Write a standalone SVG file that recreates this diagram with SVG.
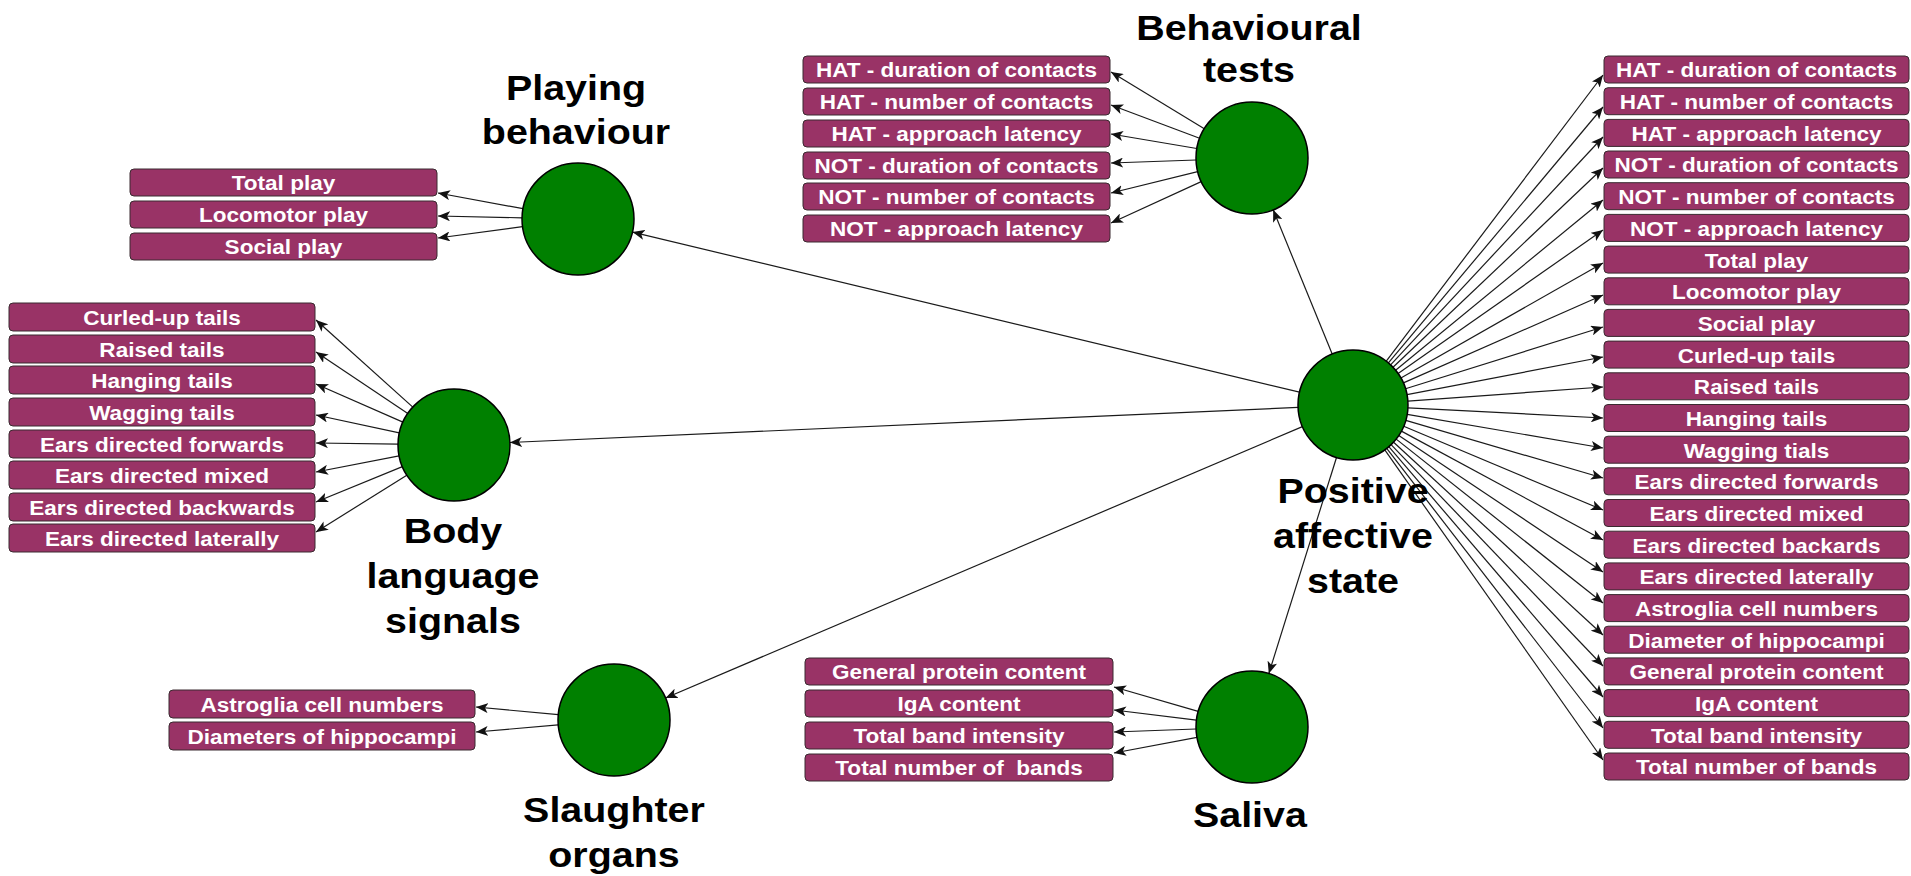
<svg xmlns="http://www.w3.org/2000/svg" width="1911" height="876" viewBox="0 0 1911 876">
<style>
  .hub { fill: #008000; stroke: #000; stroke-width: 1.5; }
  .box rect { fill: #993366; stroke: #3a2a30; stroke-width: 1; }
  .box text { fill: #ffffff; font-family: "Liberation Sans", Arial, sans-serif; font-weight: bold; font-size: 20.5px; text-anchor: middle; transform-box: fill-box; transform-origin: center; transform: scaleX(1.1); }
  .title { fill: #000; font-family: "Liberation Sans", Arial, sans-serif; font-weight: bold; font-size: 35.5px; text-anchor: middle; transform-box: fill-box; transform-origin: center; transform: scaleX(1.11); }
  #connectors line { stroke: #1a1a1a; stroke-width: 1.2; marker-end: url(#arrow); }
</style>
<defs>
  <marker id="arrow" markerUnits="userSpaceOnUse" markerWidth="13" markerHeight="10" refX="12" refY="5" orient="auto">
    <path d="M0,0 L12,5 L0,10 L3,5 Z" fill="#111"/>
  </marker>
</defs>
<rect width="1911" height="876" fill="#ffffff"/>

<g id="connectors">
  <!-- hub to categories -->
  <line x1="1332.2" y1="354.1" x2="1273.2" y2="209.8"/>
  <line x1="1299.5" y1="392.2" x2="632.5" y2="232.1"/>
  <line x1="1298.1" y1="407.4" x2="509.9" y2="442.5"/>
  <line x1="1302.4" y1="426.6" x2="665.5" y2="698"/>
  <line x1="1336.5" y1="457.5" x2="1268.8" y2="673.6"/>
  <!-- playing behaviour -->
  <line x1="523" y1="208.7" x2="438" y2="193"/>
  <line x1="522" y1="217.8" x2="438" y2="216"/>
  <line x1="522.5" y1="226.6" x2="438" y2="238"/>
  <!-- behavioural tests -->
  <line x1="1204.3" y1="128.7" x2="1111" y2="72"/>
  <line x1="1199.6" y1="138.2" x2="1111" y2="105"/>
  <line x1="1196.8" y1="148.5" x2="1111" y2="134"/>
  <line x1="1196" y1="160" x2="1111" y2="163"/>
  <line x1="1197.7" y1="171.6" x2="1111" y2="193"/>
  <line x1="1201.2" y1="181.6" x2="1111" y2="223"/>
  <!-- body language signals -->
  <line x1="412.8" y1="407.1" x2="316" y2="320"/>
  <line x1="407.8" y1="413.4" x2="316" y2="352"/>
  <line x1="402.9" y1="422.1" x2="316" y2="384"/>
  <line x1="399.3" y1="432.9" x2="316" y2="415"/>
  <line x1="398" y1="444.2" x2="316" y2="443"/>
  <line x1="399.1" y1="455.9" x2="316" y2="472"/>
  <line x1="402.4" y1="466.6" x2="316" y2="502"/>
  <line x1="406.8" y1="475.2" x2="316" y2="532"/>
  <!-- slaughter organs -->
  <line x1="558.3" y1="714.7" x2="476" y2="707"/>
  <line x1="558.2" y1="724.9" x2="476" y2="732"/>
  <!-- saliva -->
  <line x1="1198.2" y1="711.4" x2="1114" y2="687"/>
  <line x1="1196.4" y1="720.2" x2="1114" y2="710"/>
  <line x1="1196" y1="729" x2="1114" y2="732"/>
  <line x1="1197" y1="737.4" x2="1114" y2="753"/>
  <!-- hub to right-hand column -->
  <line x1="1386.3" y1="361.2" x2="1603" y2="75"/>
  <line x1="1388.4" y1="362.9" x2="1603" y2="107"/>
  <line x1="1390.6" y1="364.9" x2="1603" y2="137"/>
  <line x1="1393" y1="367.2" x2="1603" y2="168"/>
  <line x1="1395.6" y1="370.2" x2="1603" y2="200"/>
  <line x1="1398.1" y1="373.5" x2="1603" y2="230"/>
  <line x1="1400.9" y1="377.9" x2="1603" y2="263"/>
  <line x1="1403.4" y1="382.9" x2="1603" y2="295"/>
  <line x1="1405.5" y1="388.7" x2="1603" y2="327"/>
  <line x1="1407" y1="394.7" x2="1603" y2="357"/>
  <line x1="1407.9" y1="401.1" x2="1603" y2="387"/>
  <line x1="1407.9" y1="407.8" x2="1603" y2="418"/>
  <line x1="1407.2" y1="414.3" x2="1603" y2="448"/>
  <line x1="1405.8" y1="420.4" x2="1603" y2="478"/>
  <line x1="1403.7" y1="426.2" x2="1603" y2="510"/>
  <line x1="1401.4" y1="431.1" x2="1603" y2="540"/>
  <line x1="1398.8" y1="435.5" x2="1603" y2="572"/>
  <line x1="1396.2" y1="439.1" x2="1603" y2="603"/>
  <line x1="1393.6" y1="442.2" x2="1603" y2="635"/>
  <line x1="1391.1" y1="444.6" x2="1603" y2="666"/>
  <line x1="1388.8" y1="446.7" x2="1603" y2="697"/>
  <line x1="1386.7" y1="448.4" x2="1603" y2="728"/>
  <line x1="1384.8" y1="449.9" x2="1603" y2="760"/>
</g>

<!-- category hubs -->
<g id="node-positive-affective-state">
  <circle class="hub" cx="1353" cy="405" r="55"/>
  <text class="title" x="1353" y="503">Positive</text>
  <text class="title" x="1353" y="548">affective</text>
  <text class="title" x="1353" y="593">state</text>
</g>
<g id="node-behavioural-tests">
  <circle class="hub" cx="1252" cy="158" r="56"/>
  <text class="title" x="1249" y="40">Behavioural</text>
  <text class="title" x="1249" y="82">tests</text>
</g>
<g id="node-playing-behaviour">
  <circle class="hub" cx="578" cy="219" r="56"/>
  <text class="title" x="576" y="100">Playing</text>
  <text class="title" x="576" y="144">behaviour</text>
</g>
<g id="node-body-language-signals">
  <circle class="hub" cx="454" cy="445" r="56"/>
  <text class="title" x="453" y="543">Body</text>
  <text class="title" x="453" y="588">language</text>
  <text class="title" x="453" y="633">signals</text>
</g>
<g id="node-slaughter-organs">
  <circle class="hub" cx="614" cy="720" r="56"/>
  <text class="title" x="614" y="822">Slaughter</text>
  <text class="title" x="614" y="867">organs</text>
</g>
<g id="node-saliva">
  <circle class="hub" cx="1252" cy="727" r="56"/>
  <text class="title" x="1250" y="827">Saliva</text>
</g>

<!-- playing behaviour items -->
<g id="pb-total-play" class="box"><rect x="130" y="169" width="307" height="27" rx="4"/><text x="283.5" y="190.5">Total play</text></g>
<g id="pb-locomotor-play" class="box"><rect x="130" y="201" width="307" height="27" rx="4"/><text x="283.5" y="222.5">Locomotor play</text></g>
<g id="pb-social-play" class="box"><rect x="130" y="233" width="307" height="27" rx="4"/><text x="283.5" y="254.5">Social play</text></g>

<!-- behavioural test items -->
<g id="bt-hat-duration" class="box"><rect x="803" y="56" width="307" height="27" rx="4"/><text x="956.5" y="77.5">HAT - duration of contacts</text></g>
<g id="bt-hat-number" class="box"><rect x="803" y="88" width="307" height="27" rx="4"/><text x="956.5" y="109.5">HAT - number of contacts</text></g>
<g id="bt-hat-latency" class="box"><rect x="803" y="120" width="307" height="27" rx="4"/><text x="956.5" y="141.5">HAT - approach latency</text></g>
<g id="bt-not-duration" class="box"><rect x="803" y="152" width="307" height="27" rx="4"/><text x="956.5" y="173.5">NOT - duration of contacts</text></g>
<g id="bt-not-number" class="box"><rect x="803" y="183" width="307" height="27" rx="4"/><text x="956.5" y="204.5">NOT - number of contacts</text></g>
<g id="bt-not-latency" class="box"><rect x="803" y="215" width="307" height="27" rx="4"/><text x="956.5" y="236.5">NOT - approach latency</text></g>

<!-- body language items -->
<g id="bl-curled-up" class="box"><rect x="9" y="303" width="306" height="28" rx="4"/><text x="162" y="325">Curled-up tails</text></g>
<g id="bl-raised" class="box"><rect x="9" y="335" width="306" height="28" rx="4"/><text x="162" y="357">Raised tails</text></g>
<g id="bl-hanging" class="box"><rect x="9" y="366" width="306" height="28" rx="4"/><text x="162" y="388">Hanging tails</text></g>
<g id="bl-wagging" class="box"><rect x="9" y="398" width="306" height="28" rx="4"/><text x="162" y="420">Wagging tails</text></g>
<g id="bl-ears-forwards" class="box"><rect x="9" y="430" width="306" height="28" rx="4"/><text x="162" y="452">Ears directed forwards</text></g>
<g id="bl-ears-mixed" class="box"><rect x="9" y="461" width="306" height="28" rx="4"/><text x="162" y="483">Ears directed mixed</text></g>
<g id="bl-ears-backwards" class="box"><rect x="9" y="493" width="306" height="28" rx="4"/><text x="162" y="515">Ears directed backwards</text></g>
<g id="bl-ears-laterally" class="box"><rect x="9" y="524" width="306" height="28" rx="4"/><text x="162" y="546">Ears directed laterally</text></g>

<!-- slaughter organ items -->
<g id="so-astroglia" class="box"><rect x="169" y="690" width="306" height="28" rx="4"/><text x="322" y="712">Astroglia cell numbers</text></g>
<g id="so-hippocampi" class="box"><rect x="169" y="722" width="306" height="28" rx="4"/><text x="322" y="744">Diameters of hippocampi</text></g>

<!-- saliva items -->
<g id="sa-protein" class="box"><rect x="805" y="658" width="308" height="27" rx="4"/><text x="959" y="679.5">General protein content</text></g>
<g id="sa-iga" class="box"><rect x="805" y="690" width="308" height="27" rx="4"/><text x="959" y="711.5">IgA content</text></g>
<g id="sa-band-intensity" class="box"><rect x="805" y="722" width="308" height="27" rx="4"/><text x="959" y="743.5">Total band intensity</text></g>
<g id="sa-band-number" class="box"><rect x="805" y="754" width="308" height="27" rx="4"/><text x="959" y="775.5" xml:space="preserve">Total number of  bands</text></g>

<!-- right-hand column of all indicators -->
<g id="pa-01" class="box"><rect x="1604" y="56" width="305" height="27" rx="4"/><text x="1756.5" y="77.5">HAT - duration of contacts</text></g>
<g id="pa-02" class="box"><rect x="1604" y="87.7" width="305" height="27" rx="4"/><text x="1756.5" y="109.2">HAT - number of contacts</text></g>
<g id="pa-03" class="box"><rect x="1604" y="119.4" width="305" height="27" rx="4"/><text x="1756.5" y="140.9">HAT - approach latency</text></g>
<g id="pa-04" class="box"><rect x="1604" y="151" width="305" height="27" rx="4"/><text x="1756.5" y="172.5">NOT - duration of contacts</text></g>
<g id="pa-05" class="box"><rect x="1604" y="182.7" width="305" height="27" rx="4"/><text x="1756.5" y="204.2">NOT - number of contacts</text></g>
<g id="pa-06" class="box"><rect x="1604" y="214.4" width="305" height="27" rx="4"/><text x="1756.5" y="235.9">NOT - approach latency</text></g>
<g id="pa-07" class="box"><rect x="1604" y="246.1" width="305" height="27" rx="4"/><text x="1756.5" y="267.6">Total play</text></g>
<g id="pa-08" class="box"><rect x="1604" y="277.8" width="305" height="27" rx="4"/><text x="1756.5" y="299.3">Locomotor play</text></g>
<g id="pa-09" class="box"><rect x="1604" y="309.4" width="305" height="27" rx="4"/><text x="1756.5" y="330.9">Social play</text></g>
<g id="pa-10" class="box"><rect x="1604" y="341.1" width="305" height="27" rx="4"/><text x="1756.5" y="362.6">Curled-up tails</text></g>
<g id="pa-11" class="box"><rect x="1604" y="372.8" width="305" height="27" rx="4"/><text x="1756.5" y="394.3">Raised tails</text></g>
<g id="pa-12" class="box"><rect x="1604" y="404.5" width="305" height="27" rx="4"/><text x="1756.5" y="426">Hanging tails</text></g>
<g id="pa-13" class="box"><rect x="1604" y="436.2" width="305" height="27" rx="4"/><text x="1756.5" y="457.7">Wagging tials</text></g>
<g id="pa-14" class="box"><rect x="1604" y="467.8" width="305" height="27" rx="4"/><text x="1756.5" y="489.3">Ears directed forwards</text></g>
<g id="pa-15" class="box"><rect x="1604" y="499.5" width="305" height="27" rx="4"/><text x="1756.5" y="521">Ears directed mixed</text></g>
<g id="pa-16" class="box"><rect x="1604" y="531.2" width="305" height="27" rx="4"/><text x="1756.5" y="552.7">Ears directed backards</text></g>
<g id="pa-17" class="box"><rect x="1604" y="562.9" width="305" height="27" rx="4"/><text x="1756.5" y="584.4">Ears directed laterally</text></g>
<g id="pa-18" class="box"><rect x="1604" y="594.6" width="305" height="27" rx="4"/><text x="1756.5" y="616.1">Astroglia cell numbers</text></g>
<g id="pa-19" class="box"><rect x="1604" y="626.2" width="305" height="27" rx="4"/><text x="1756.5" y="647.7">Diameter of hippocampi</text></g>
<g id="pa-20" class="box"><rect x="1604" y="657.9" width="305" height="27" rx="4"/><text x="1756.5" y="679.4">General protein content</text></g>
<g id="pa-21" class="box"><rect x="1604" y="689.6" width="305" height="27" rx="4"/><text x="1756.5" y="711.1">IgA content</text></g>
<g id="pa-22" class="box"><rect x="1604" y="721.3" width="305" height="27" rx="4"/><text x="1756.5" y="742.8">Total band intensity</text></g>
<g id="pa-23" class="box"><rect x="1604" y="753" width="305" height="27" rx="4"/><text x="1756.5" y="774.5">Total number of bands</text></g>
</svg>
